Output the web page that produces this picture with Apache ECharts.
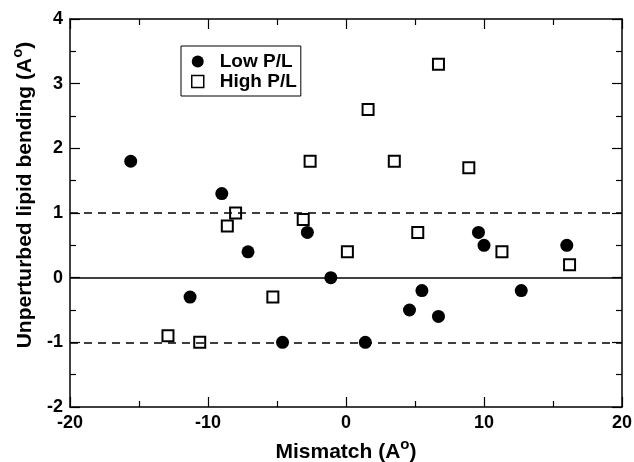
<!DOCTYPE html>
<html>
<head>
<meta charset="utf-8">
<script src="https://cdn.jsdelivr.net/npm/echarts@6/dist/echarts.min.js"></script>
<style>
  html, body { margin: 0; padding: 0; background: #fff; }
  #chart { width: 634px; height: 462px; }
</style>
</head>
<body>
<div id="chart"></div>
<script>
// low P/L: filled circles  [mismatch, bending]
const lowPL = [
  [-15.6, 1.8], [-9.0, 1.3], [-7.1, 0.4], [-2.8, 0.7], [-11.3, -0.3],
  [-4.6, -1.0], [-1.1, 0.0], [1.4, -1.0], [4.6, -0.5], [5.5, -0.2],
  [6.7, -0.6], [9.6, 0.7], [10.0, 0.5], [12.7, -0.2], [16.0, 0.5]
];
// high P/L: open squares
const highPL = [
  [-8.0, 1.0], [-8.6, 0.8], [-2.6, 1.8], [-3.1, 0.9], [6.7, 3.3],
  [1.6, 2.6], [3.5, 1.8], [8.9, 1.7], [-5.3, -0.3], [-12.9, -0.9],
  [-10.6, -1.0], [5.2, 0.7], [0.1, 0.4], [11.3, 0.4], [16.2, 0.2]
];
const refLines = [
  { y: 0, type: 'solid' },
  { y: 1, type: 'dashed' },
  { y: -1, type: 'dashed' }
];

const font = 'Liberation Sans, Arial, sans-serif';
const chart = echarts.init(document.getElementById('chart'));

const tickCommon = (show) => ({
  axisLine: { show: true, onZero: false, lineStyle: { color: '#000', width: 1.5 } },
  axisTick: { show: true, inside: true, length: 10, lineStyle: { color: '#000', width: 1.2 } },
  minorTick: { show: true, splitNumber: 2, length: 6, lineStyle: { color: '#000', width: 1.2 } },
  splitLine: { show: false },
  axisLabel: { show: show, color: '#000', fontFamily: font, fontWeight: 'bold', fontSize: 18, margin: 7 }
});

const nameRich = {
  a: { fontFamily: font, fontWeight: 'bold', fontSize: 21, color: '#000', verticalAlign: 'bottom' },
  s: { fontFamily: font, fontWeight: 'bold', fontSize: 15, color: '#000', verticalAlign: 'bottom', padding: [0, 0, 11, 0] }
};

chart.setOption({
  animation: false,
  backgroundColor: '#fff',
  grid: { left: 70, right: 12, top: 19, bottom: 55, outerBoundsMode: 'none', containLabel: false },
  legend: {
    orient: 'vertical',
    left: 181,
    top: 46,
    borderColor: '#000',
    borderWidth: 1,
    borderRadius: 0,
    padding: [6, 4, 5, 10],
    itemGap: 1,
    itemWidth: 12,
    itemHeight: 12,
    textStyle: { fontFamily: font, fontWeight: 'bold', fontSize: 19, lineHeight: 19, color: '#000', padding: [0, 0, 0, 11] },
    data: [
      { name: 'Low P/L', icon: 'circle' },
      { name: 'High P/L', icon: 'rect', itemStyle: { color: '#fff', borderColor: '#000', borderWidth: 1.5 } }
    ]
  },
  xAxis: [
    Object.assign({
      type: 'value', min: -20, max: 20, interval: 10, position: 'bottom',
      name: '{a|Mismatch (A}{s|o}{a|)}',
      nameLocation: 'middle', nameGap: 29,
      nameTextStyle: { rich: nameRich }
    }, tickCommon(true)),
    Object.assign({
      type: 'value', min: -20, max: 20, interval: 10, position: 'top'
    }, tickCommon(false))
  ],
  yAxis: [
    Object.assign({
      type: 'value', min: -2, max: 4, interval: 1, position: 'left',
      name: '{a|Unperturbed lipid bending (A}{s|o}{a|)}',
      nameLocation: 'middle', nameGap: 33,
      nameTextStyle: { rich: nameRich, padding: [0, 0, 0, 36] }
    }, tickCommon(true)),
    Object.assign({
      type: 'value', min: -2, max: 4, interval: 1, position: 'right'
    }, tickCommon(false))
  ],
  series: [
    {
      name: 'Low P/L', type: 'scatter', data: lowPL,
      symbol: 'circle', symbolSize: 13,
      itemStyle: { color: '#000', opacity: 1 },
      markLine: {
        silent: true, symbol: 'none', label: { show: false },
        data: refLines.map(r => ({
          yAxis: r.y,
          lineStyle: { color: '#000', width: 1.5, type: r.type === 'dashed' ? [8, 6] : 'solid' }
        }))
      },
      z: 3
    },
    {
      name: 'High P/L', type: 'scatter', data: highPL,
      symbol: 'rect', symbolSize: 11,
      itemStyle: { color: '#fff', borderColor: '#000', borderWidth: 2, opacity: 1 },
      z: 4
    }
  ]
});
</script>
</body>
</html>
